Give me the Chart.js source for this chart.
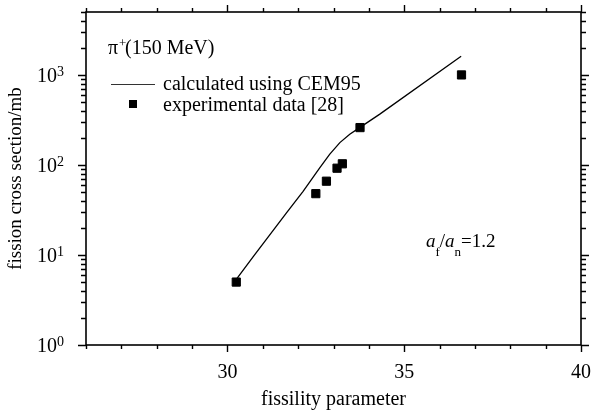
<!DOCTYPE html>
<html>
<head>
<meta charset="utf-8">
<title>fission cross section vs fissility parameter</title>
<script src="https://cdn.jsdelivr.net/npm/chart.js@4/dist/chart.umd.min.js"></script>
<style>
    html, body { margin: 0; padding: 0; background: #fff; }
    #wrap { width: 593px; height: 415px; }
</style>
</head>
<body>
<div id="wrap"><canvas id="chart" width="593" height="415"></canvas></div>
<script>

// =========================================================
// Data
// =========================================================

const calcX = [30.24, 30.73, 31.67, 32.14, 32.61, 32.89, 33.18, 33.46, 33.74, 34.31, 36.61];
const calcY = [5.3, 9.6, 29.4, 51, 93, 131, 177, 219, 260, 367, 1610];

const expX = [30.25, 32.50, 32.80, 33.10, 33.25, 33.75, 36.62];
const expY = [5.0, 48, 66, 92, 103, 260, 1000];

const xTickLabels = [30, 35, 40];
const yDecades    = [1, 10, 100, 1000];
const yExponents  = ['0', '1', '2', '3'];

const X_MIN = 26, X_MAX = 40;
const Y_MIN = 1,  Y_MAX = 5000;

const SERIF = '"Liberation Serif", "Times New Roman", serif';

// =========================================================
// Frame, ticks and texts drawn on top
// =========================================================

const frame = {
    id: 'frame',
    afterDraw(chart) {
        const { ctx, chartArea: a, scales: { x, y } } = chart;
        ctx.save();
        ctx.strokeStyle = '#000';
        ctx.fillStyle = '#000';

        // box
        ctx.lineWidth = 1.6;
        ctx.strokeRect(a.left, a.top, a.right - a.left, a.bottom - a.top);

        // x ticks, outside on bottom and top
        ctx.lineWidth = 1.4;
        ctx.beginPath();
        for (let v = X_MIN; v <= X_MAX; v++) {
            const px = Math.round(x.getPixelForValue(v)) + 0.5;
            const len = xTickLabels.includes(v) ? 7 : 4;
            ctx.moveTo(px, a.bottom); ctx.lineTo(px, a.bottom + len);
            ctx.moveTo(px, a.top);    ctx.lineTo(px, a.top - len);
        }
        // y ticks, outside on left and right
        yDecades.forEach(d => {
            for (let k = 1; k <= 9; k++) {
                const v = k * d;
                if (v > Y_MAX) break;
                const py = Math.round(y.getPixelForValue(v)) + 0.5;
                const len = k === 1 ? 8 : 5;
                ctx.moveTo(a.left, py);  ctx.lineTo(a.left - len, py);
                ctx.moveTo(a.right, py); ctx.lineTo(a.right + len, py);
            }
        });
        ctx.stroke();

        // y tick labels 10^n
        ctx.textBaseline = 'alphabetic';
        yDecades.forEach((d, i) => {
            const py = y.getPixelForValue(d);
            ctx.font = '20px ' + SERIF;
            ctx.textAlign = 'right';
            ctx.fillText('10', 57, py + 7);
            ctx.font = '14px ' + SERIF;
            ctx.textAlign = 'left';
            ctx.fillText(yExponents[i], 57, py + 1);
        });

        // legend
        ctx.textAlign = 'left';
        ctx.font = '20px ' + SERIF;
        ctx.fillText('\u03c0', 108, 54);
        ctx.font = '13px ' + SERIF;
        ctx.fillText('+', 119, 47);
        ctx.font = '20px ' + SERIF;
        ctx.fillText('(150 MeV)', 125, 54);

        ctx.lineWidth = 1.2;
        ctx.strokeStyle = '#333';
        ctx.beginPath();
        ctx.moveTo(111, 84.5); ctx.lineTo(155, 84.5);
        ctx.stroke();
        ctx.fillRect(129, 100, 8, 8);

        ctx.fillText('calculated using CEM95', 163, 90);
        ctx.fillText('experimental data [28]', 163, 111);

        // annotation a_f / a_n = 1.2
        let tx = 426;
        const base = 247;
        const part = (txt, font, dy) => {
            ctx.font = font;
            ctx.fillText(txt, tx, base + dy);
            tx += ctx.measureText(txt).width;
        };
        part('a', 'italic 19px ' + SERIF, 0);
        part('f', '13px ' + SERIF, 9);
        part('/', '19px ' + SERIF, 0);
        part('a', 'italic 19px ' + SERIF, 0);
        part('n', '13px ' + SERIF, 9);
        part('=1.2', '19px ' + SERIF, 0);

        ctx.restore();
    }
};

// =========================================================
// Chart
// =========================================================

const toPoints = (xs, ys) => xs.map((v, i) => ({ x: v, y: ys[i] }));

new Chart(document.getElementById('chart'), {
    type: 'scatter',
    data: {
        datasets: [
            {
                label: 'calculated using CEM95',
                data: toPoints(calcX, calcY),
                showLine: true,
                borderColor: '#000',
                borderWidth: 1.3,
                pointRadius: 0,
                tension: 0,
            },
            {
                label: 'experimental data [28]',
                data: toPoints(expX, expY),
                pointStyle: 'rect',
                pointRadius: 5.8,
                pointBorderWidth: 1,
                pointBackgroundColor: '#000',
                pointBorderColor: '#000',
            },
        ],
    },
    options: {
        responsive: false,
        animation: false,
        devicePixelRatio: 1,
        layout: { padding: { top: 12, right: 12, left: 0, bottom: 0 } },
        plugins: { legend: { display: false }, tooltip: { enabled: false } },
        scales: {
            x: {
                type: 'linear',
                min: X_MIN, max: X_MAX,
                afterFit: s => { s.height = 70; s.paddingLeft = 0; s.paddingRight = 0; },
                grid: { display: false, drawTicks: false },
                border: { display: false },
                ticks: {
                    stepSize: 1,
                    autoSkip: false,
                    maxRotation: 0,
                    padding: 16,
                    color: '#000',
                    font: { family: SERIF, size: 20 },
                    callback: v => xTickLabels.includes(v) ? String(v) : '',
                },
                title: {
                    display: true,
                    text: 'fissility parameter',
                    color: '#000',
                    font: { family: SERIF, size: 20 },
                    padding: { top: 0, bottom: 3 },
                },
            },
            y: {
                type: 'logarithmic',
                min: Y_MIN, max: Y_MAX,
                afterFit: s => { s.width = 86; s.paddingTop = 0; s.paddingBottom = 0; },
                grid: { display: false, drawTicks: false },
                border: { display: false },
                ticks: { display: false },
                title: {
                    display: true,
                    text: 'fission cross section/mb',
                    color: '#000',
                    font: { family: SERIF, size: 19 },
                    padding: { top: 5, bottom: 0 },
                },
            },
        },
    },
    plugins: [frame],
});
</script>
</body>
</html>
